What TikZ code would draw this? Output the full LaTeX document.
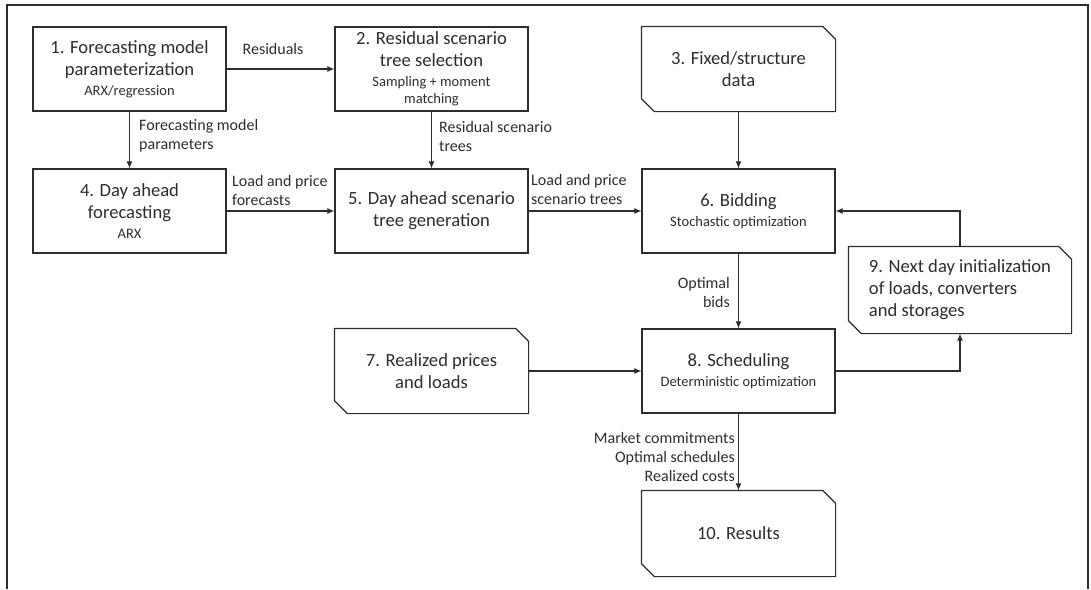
\documentclass[tikz,border=0pt]{standalone}
\usepackage{fontspec}
\setmainfont{Carlito}
\usetikzlibrary{arrows.meta,calc}

\definecolor{ink}{RGB}{45,45,45}

\newcommand\boxtitlefont{\fontsize{18.6}{22}\selectfont}
\newcommand\boxsubfont{\fontsize{14.5}{17}\selectfont}
\newcommand\edgelabelfont{\fontsize{16}{19}\selectfont}

% outline of a box with the top-right and bottom-left corners cut off
\newcommand\chamfbox[2][13pt]{%
  \draw[draw=ink, line width=1.2pt]
    (#2.north west) -- ([xshift=-#1]#2.north east) -- ([yshift=-#1]#2.north east)
    -- (#2.south east) -- ([xshift=#1]#2.south west) -- ([yshift=#1]#2.south west) -- cycle;}

\tikzset{
  box/.style={draw=ink, line width=1.2pt, minimum width=193pt, minimum height=84pt,
    inner sep=2pt, align=center, text=ink, font=\boxtitlefont},
  cbox/.style={box, draw=none},
  flow/.style={draw=ink, line width=1.1pt, -{Latex[length=7pt,width=6pt]}},
  lbl/.style={text=ink, font=\edgelabelfont, inner sep=0pt},
}

\begin{document}
\begin{tikzpicture}[x=1pt, y=-1pt]
\useasboundingbox (0,0) rectangle (1091,589);

% outer frame, open at the bottom
\draw[ink, line width=1.8pt] (7,589) -- (7,5) -- (1088,5) -- (1088,589);

% process boxes
\node[box] (n1) at (129.5,69) {1. Forecasting model\\parameterization\\[-2pt]{\boxsubfont ARX/regression}};
\node[box] (n2) at (431.5,69) {2. Residual scenario\\tree selection\\[-2pt]{\boxsubfont Sampling + moment}\\[-5pt]{\boxsubfont matching}};
\node[cbox] (n3) at (738.5,69) {3. Fixed/structure\\data};
\node[box] (n4) at (129.5,211) {4. Day ahead\\forecasting\\[-2pt]{\boxsubfont ARX}};
\node[box] (n5) at (431.5,211) {5. Day ahead scenario\\tree generation};
\node[box] (n6) at (738.5,211) {6. Bidding\\[-2pt]{\boxsubfont Stochastic optimization}};
\node[cbox] (n7) at (431.5,371) {7. Realized prices\\and loads};
\node[box] (n8) at (738.5,371) {8. Scheduling\\[-2pt]{\boxsubfont Deterministic optimization}};
\node[cbox, minimum width=222pt, minimum height=86pt, align=left] (n9) at (960,290)
  {9. Next day initialization\\of loads, converters\\and storages};
\node[cbox, minimum height=85pt] (n10) at (738.5,533.5) {10. Results};

\chamfbox{n3}
\chamfbox{n7}
\chamfbox{n9}
\chamfbox{n10}

% connectors
\draw[flow] (n1) -- (n2);
\draw[flow] (n1) -- (n4);
\draw[flow] (n2) -- (n5);
\draw[flow] (n3) -- (n6);
\draw[flow] (n4) -- (n5);
\draw[flow] (n5) -- (n6);
\draw[flow] (n6) -- (n8);
\draw[flow] (n7) -- (n8);
\draw[flow] (n8.east) -| (n9.south);
\draw[flow] (n9.north) |- (n6.east);
\draw[flow] (n8) -- (n10);

% connector labels
\node[lbl] (l12) at (273,49) {Residuals};
\node[lbl, anchor=west, align=left] (l14) at (139,136) {Forecasting model\\parameters};
\node[lbl, anchor=west, align=left] (l25) at (439,137) {Residual scenario\\trees};
\node[lbl, anchor=west, align=left] (l45) at (232,191) {Load and price\\forecasts};
\node[lbl, anchor=west, align=left] (l56) at (531,190) {Load and price\\scenario trees};
\node[lbl, anchor=east, align=right] (l68) at (730,292) {Optimal\\bids};
\node[lbl, anchor=east, align=right] (l810) at (735,457) {Market commitments\\Optimal schedules\\Realized costs};
\end{tikzpicture}
\end{document}
